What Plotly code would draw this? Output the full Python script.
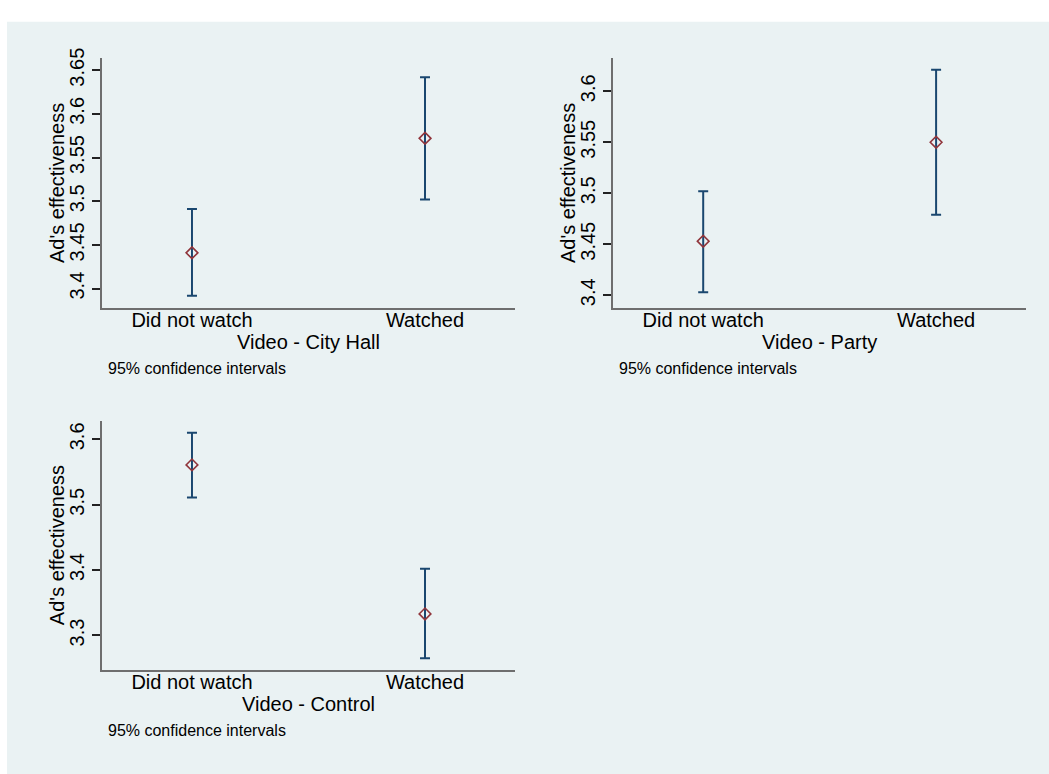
import plotly.graph_objects as go

# ---- data ----
categories = ["Did not watch", "Watched"]
cat_pos = [0, 1]

cityhall_mean = [3.441, 3.572]
cityhall_lo = [3.392, 3.502]
cityhall_hi = [3.491, 3.642]

party_mean = [3.453, 3.550]
party_lo = [3.403, 3.479]
party_hi = [3.502, 3.621]

control_mean = [3.561, 3.333]
control_lo = [3.511, 3.265]
control_hi = [3.610, 3.402]

panel_titles = ["Video - City Hall", "Video - Party", "Video - Control"]
ytick_cityhall = [3.4, 3.45, 3.5, 3.55, 3.6, 3.65]
ytick_party = [3.4, 3.45, 3.5, 3.55, 3.6]
ytick_control = [3.3, 3.4, 3.5, 3.6]
note = "95% confidence intervals"
ytitle = "Ad's effectiveness"

# ---- styles ----
W, H = 1049, 774
BG = "#eaf2f3"
NAVY = "#1a476f"
MAROON = "#90353b"
FONT = "Liberation Sans, Arial, sans-serif"

fig = go.Figure()

panels = [
    (cityhall_mean, cityhall_lo, cityhall_hi, "x", "y"),
    (party_mean, party_lo, party_hi, "x2", "y2"),
    (control_mean, control_lo, control_hi, "x3", "y3"),
]
for mean, lo, hi, xa, ya in panels:
    fig.add_trace(go.Scatter(
        x=cat_pos, y=mean, mode="markers", xaxis=xa, yaxis=ya,
        marker=dict(symbol="diamond-open", size=9, color=MAROON,
                    line=dict(width=1.6, color=MAROON)),
        error_y=dict(type="data", symmetric=False,
                     array=[h - m for h, m in zip(hi, mean)],
                     arrayminus=[m - l for m, l in zip(mean, lo)],
                     color=NAVY, thickness=2, width=5),
        showlegend=False, hoverinfo="skip",
    ))

def px_x(a, b):
    return [a / W, b / W]

def px_y(top, bottom):
    return [1 - bottom / H, 1 - top / H]

dom_x_left = px_x(102, 515)
dom_x_right = px_x(613.3, 1026)
dom_y_top = px_y(48.3, 302.3)
dom_y_bot = px_y(416, 668.3)

def xaxis(domain, anchor, title):
    return dict(
        domain=domain, anchor=anchor, range=[-0.386, 1.386],
        tickvals=cat_pos, ticktext=categories, ticks="",
        ticklabelstandoff=-7,
        showgrid=False, zeroline=False, showline=True,
        linecolor="#6e6e6e", linewidth=2,
        tickfont=dict(family=FONT, size=20, color="black"),
        title=dict(text=title, font=dict(family=FONT, size=20, color="black"),
                   standoff=3),
        fixedrange=True,
    )

def yaxis(domain, anchor, rng, tv):
    return dict(
        domain=domain, anchor=anchor, range=rng,
        tickvals=tv, ticktext=[("%g" % v) for v in tv], tickangle=-90,
        ticks="outside", ticklen=8, tickwidth=1.5, tickcolor="#222222",
        showgrid=True, gridcolor=BG, gridwidth=2,
        zeroline=False, showline=True, linecolor="#6e6e6e", linewidth=2,
        tickfont=dict(family=FONT, size=20, color="black"),
        fixedrange=True,
    )

def ytitle_ann(x_px, dom):
    return dict(text=ytitle, xref="paper", yref="paper",
                x=x_px / W, y=(dom[0] + dom[1]) / 2,
                xanchor="center", yanchor="middle", textangle=-90,
                showarrow=False, font=dict(family=FONT, size=20, color="black"))

def note_ann(x_px, y_px):
    return dict(text=note, xref="paper", yref="paper", x=x_px / W, y=1 - y_px / H,
                xanchor="left", yanchor="middle", showarrow=False,
                font=dict(family=FONT, size=16, color="black"))

fig.update_layout(
    width=W, height=H, margin=dict(l=0, r=0, t=0, b=0),
    paper_bgcolor="white", plot_bgcolor="white",
    font=dict(family=FONT, color="black"),
    xaxis=xaxis(dom_x_left, "y", panel_titles[0]),
    yaxis=yaxis(dom_y_top, "x", [3.3774, 3.6643], ytick_cityhall),
    xaxis2=xaxis(dom_x_right, "y2", panel_titles[1]),
    yaxis2=yaxis(dom_y_top, "x2", [3.3871, 3.6329], ytick_party),
    xaxis3=xaxis(dom_x_left, "y3", panel_titles[2]),
    yaxis3=yaxis(dom_y_bot, "x3", [3.2477, 3.6287], ytick_control),
    shapes=[dict(type="rect", xref="paper", yref="paper",
                 x0=7 / W, x1=1, y0=0, y1=1 - 12 / H,
                 fillcolor=BG, line=dict(width=0), layer="below")],
    annotations=[
        ytitle_ann(57, dom_y_top),
        ytitle_ann(568, dom_y_top),
        ytitle_ann(57, dom_y_bot),
        note_ann(105.7, 363),
        note_ann(616.8, 363),
        note_ann(105.7, 730),
    ],
)

fig.write_html("out.html")
